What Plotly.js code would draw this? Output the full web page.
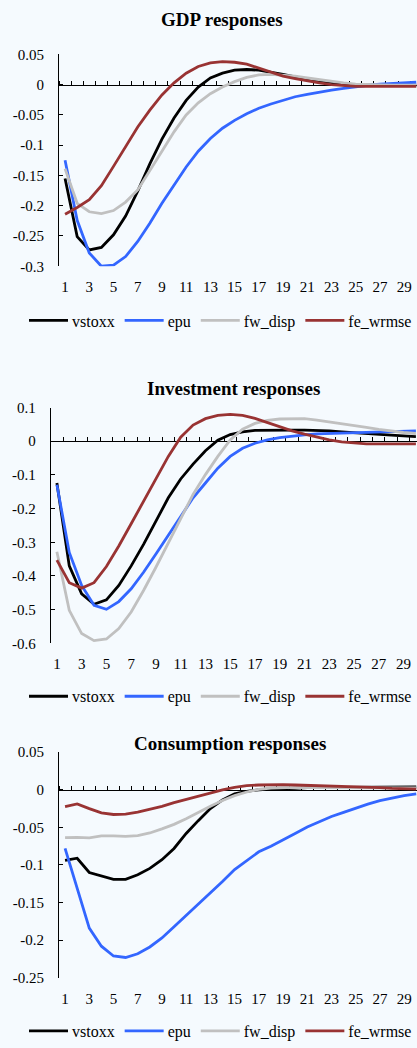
<!DOCTYPE html>
<html>
<head>
<meta charset="utf-8">
<script src="https://cdn.plot.ly/plotly-3.0.1.min.js"></script>
<style>
html,body{margin:0;padding:0;background:#F5FAFE;}
#chart{width:417px;height:1048px;}
</style>
</head>
<body>
<div id="chart"></div>
<script>
// ---------- data ----------
const periods = [1,2,3,4,5,6,7,8,9,10,11,12,13,14,15,16,17,18,19,20,21,22,23,24,25,26,27,28,29,30];
const seriesNames = ['vstoxx','epu','fw_disp','fe_wrmse'];
const seriesColors = ['#000000','#3366FF','#C0C0C0','#993333'];

const xTickVals = [1,3,5,7,9,11,13,15,17,19,21,23,25,27,29];
const xTickText = ['1','3','5','7','9','11','13','15','17','19','21','23','25','27','29'];

const gdpTitle = 'GDP responses';
const gdpTickVals = [0.05,0,-0.05,-0.1,-0.15,-0.2,-0.25,-0.3];
const gdpTickText = ['0.05','0','-0.05','-0.1','-0.15','-0.2','-0.25','-0.3'];
const gdpVstoxx = [-0.155,-0.251,-0.273,-0.269,-0.248,-0.217,-0.176,-0.131,-0.090,-0.055,-0.026,-0.004,0.011,0.019,0.024,0.025,0.024,0.021,0.017,0.013,0.009,0.006,0.003,0.001,0.000,-0.001,-0.001,-0.001,-0.001,-0.001];
const gdpEpu = [-0.125,-0.224,-0.278,-0.300,-0.298,-0.284,-0.259,-0.229,-0.196,-0.165,-0.136,-0.110,-0.089,-0.072,-0.059,-0.048,-0.039,-0.032,-0.026,-0.020,-0.016,-0.012,-0.009,-0.006,-0.003,-0.001,0.001,0.002,0.003,0.004];
const gdpFwDisp = [-0.139,-0.196,-0.210,-0.213,-0.208,-0.194,-0.174,-0.143,-0.110,-0.078,-0.050,-0.030,-0.015,-0.004,0.005,0.012,0.016,0.017,0.016,0.014,0.011,0.008,0.005,0.003,0.001,0.000,0.000,-0.001,-0.001,-0.001];
const gdpFeWrmse = [-0.214,-0.203,-0.190,-0.167,-0.135,-0.102,-0.070,-0.042,-0.017,0.003,0.019,0.030,0.036,0.038,0.037,0.034,0.027,0.020,0.014,0.010,0.006,0.003,0.000,-0.002,-0.003,-0.003,-0.003,-0.003,-0.003,-0.003];

const invTitle = 'Investment responses';
const invTickVals = [0.1,0,-0.1,-0.2,-0.3,-0.4,-0.5,-0.6];
const invTickText = ['0.1','0','-0.1','-0.2','-0.3','-0.4','-0.5','-0.6'];
const invVstoxx = [-0.124,-0.370,-0.453,-0.484,-0.471,-0.428,-0.370,-0.306,-0.237,-0.168,-0.112,-0.068,-0.028,0.003,0.020,0.028,0.032,0.033,0.033,0.033,0.033,0.033,0.031,0.028,0.025,0.022,0.020,0.018,0.016,0.014];
const invEpu = [-0.129,-0.330,-0.428,-0.487,-0.499,-0.476,-0.438,-0.389,-0.335,-0.279,-0.222,-0.168,-0.124,-0.080,-0.045,-0.021,-0.006,0.004,0.011,0.016,0.019,0.022,0.023,0.025,0.027,0.028,0.029,0.030,0.031,0.031];
const invFwDisp = [-0.328,-0.502,-0.571,-0.592,-0.587,-0.556,-0.507,-0.443,-0.374,-0.301,-0.227,-0.158,-0.099,-0.045,0.004,0.036,0.053,0.062,0.066,0.067,0.067,0.063,0.058,0.053,0.047,0.041,0.035,0.030,0.026,0.023];
const invFeWrmse = [-0.353,-0.420,-0.436,-0.420,-0.372,-0.311,-0.245,-0.178,-0.114,-0.045,0.012,0.048,0.067,0.077,0.080,0.077,0.068,0.055,0.043,0.031,0.021,0.012,0.004,-0.002,-0.006,-0.008,-0.008,-0.008,-0.008,-0.008];

const conTitle = 'Consumption responses';
const conTickVals = [0.05,0,-0.05,-0.1,-0.15,-0.2,-0.25];
const conTickText = ['0.05','0','-0.05','-0.1','-0.15','-0.2','-0.25'];
const conVstoxx = [-0.094,-0.091,-0.110,-0.114,-0.119,-0.119,-0.113,-0.1045,-0.093,-0.078,-0.058,-0.041,-0.025,-0.0135,-0.0055,-0.002,0.000,0.001,0.002,0.002,0.003,0.003,0.003,0.003,0.003,0.004,0.004,0.004,0.004,0.004];
const conEpu = [-0.078,-0.131,-0.184,-0.208,-0.221,-0.223,-0.218,-0.209,-0.197,-0.182,-0.167,-0.153,-0.137,-0.122,-0.106,-0.094,-0.0825,-0.075,-0.067,-0.058,-0.0495,-0.042,-0.0355,-0.030,-0.024,-0.019,-0.0143,-0.0108,-0.0078,-0.0055];
const conFwDisp = [-0.0636,-0.0632,-0.064,-0.0614,-0.0614,-0.062,-0.061,-0.0574,-0.052,-0.046,-0.0385,-0.0297,-0.0218,-0.0143,-0.0078,-0.0029,0.0006,0.0024,0.0033,0.0033,0.003,0.003,0.003,0.003,0.003,0.003,0.003,0.0027,0.0025,0.0024];
const conFeWrmse = [-0.0223,-0.0187,-0.025,-0.0306,-0.0328,-0.0324,-0.0297,-0.0262,-0.022,-0.017,-0.0126,-0.0078,-0.0038,0.0,0.0033,0.0055,0.0064,0.0068,0.0068,0.0064,0.006,0.0055,0.005,0.0046,0.0042,0.0033,0.003,0.002,0.0015,0.001];

// ---------- layout ----------
const W = 417, H = 1048;
const FONT = 'Liberation Serif, Times New Roman, serif';
const BG = '#F5FAFE';

const panels = [
  {title: gdpTitle, tx: 222, ty: 20, left: 59, unit: 12.11, top: 54.8, bottom: 268.3, ymin: -0.3, ymax: 0.05,
   tv: gdpTickVals, tt: gdpTickText, legY: 323, series: [gdpVstoxx, gdpEpu, gdpFwDisp, gdpFeWrmse]},
  {title: invTitle, tx: 233, ty: 391.7, left: 50.7, unit: 12.38, top: 410.7, bottom: 648.3, ymin: -0.6, ymax: 0.1,
   tv: invTickVals, tt: invTickText, legY: 701.7, series: [invVstoxx, invEpu, invFwDisp, invFeWrmse]},
  {title: conTitle, tx: 230, ty: 749.3, left: 59, unit: 12.11, top: 758, bottom: 985.3, ymin: -0.25, ymax: 0.05,
   tv: conTickVals, tt: conTickText, legY: 1039.3, series: [conVstoxx, conEpu, conFwDisp, conFeWrmse]}
];

const boundaries = [0.5].concat(periods.map(p => p + 0.5));

const traces = [];
const layout = {
  width: W, height: H,
  margin: {l: 0, r: 0, t: 0, b: 0},
  paper_bgcolor: BG, plot_bgcolor: 'rgba(0,0,0,0)',
  font: {family: FONT, size: 15, color: '#000'},
  annotations: [],
  showlegend: true
};

panels.forEach((p, i) => {
  const sfx = i === 0 ? '' : String(i + 1);
  const xName = 'x' + sfx, yName = 'y' + sfx;
  const xZero = 'x' + (i + 4);
  const legName = 'legend' + sfx;
  const xr = [0.5, 0.5 + (W - p.left) / p.unit];
  const yd = [1 - p.bottom / H, 1 - p.top / H];
  const zeroPos = yd[0] + (0 - p.ymin) / (p.ymax - p.ymin) * (yd[1] - yd[0]);

  // category-label axis at the bottom
  layout['xaxis' + sfx] = {
    domain: [p.left / W, 1], range: xr, anchor: yName,
    tickvals: xTickVals, ticktext: xTickText, ticks: '',
    showline: false, showgrid: false, zeroline: false,
    tickfont: {family: FONT, size: 15, color: '#000'},
    ticklabelstandoff: 10
  };
  // axis line crossing at y = 0, with tick marks between categories
  layout['xaxis' + (i + 4)] = {
    domain: [p.left / W, 1], anchor: 'free', position: zeroPos, side: 'top',
    range: xr, tickvals: boundaries, ticks: 'outside', ticklen: 4, tickwidth: 1, tickcolor: '#000',
    showticklabels: false, showline: true, linecolor: '#000', linewidth: 1,
    showgrid: false, zeroline: false, layer: 'below traces'
  };
  layout['yaxis' + sfx] = {
    domain: yd, range: [p.ymin, p.ymax], anchor: xName,
    tickvals: p.tv, ticktext: p.tt, ticks: 'inside', ticklen: 4, tickwidth: 1, tickcolor: '#000',
    showline: true, linecolor: '#000', linewidth: 1, showgrid: false, zeroline: false,
    tickfont: {family: FONT, size: 15, color: '#000'},
    ticklabelstandoff: 11
  };
  layout[legName] = {
    orientation: 'h', x: 27 / W, xanchor: 'left', y: 1 - p.legY / H, yanchor: 'middle',
    bgcolor: 'rgba(0,0,0,0)', borderwidth: 0, itemwidth: 38,
    font: {family: FONT, size: 16, color: '#000'}, traceorder: 'normal'
  };
  layout.annotations.push({
    text: '<b>' + p.title + '</b>', xref: 'paper', yref: 'paper',
    x: p.tx / W, y: 1 - p.ty / H, xanchor: 'center', yanchor: 'middle',
    showarrow: false, font: {family: FONT, size: 19, color: '#000'}
  });

  // invisible carrier keeping the bottom label axis in use
  traces.push({
    type: 'scatter', mode: 'lines', x: periods, y: p.series[0],
    xaxis: xName, yaxis: yName, line: {color: 'rgba(0,0,0,0)', width: 0},
    showlegend: false, hoverinfo: 'skip'
  });

  p.series.forEach((vals, k) => {
    traces.push({
      type: 'scatter', mode: 'lines', x: periods, y: vals,
      name: seriesNames[k], xaxis: xZero, yaxis: yName, legend: legName,
      line: {color: seriesColors[k], width: 2.8}, showlegend: true,
      hoverinfo: 'skip', cliponaxis: true
    });
  });
});

Plotly.newPlot('chart', traces, layout, {staticPlot: true, displayModeBar: false}).then(() => {
  document.querySelectorAll('.legendlines path').forEach(el => el.setAttribute('d', 'M5,0h39'));
});
</script>
</body>
</html>
